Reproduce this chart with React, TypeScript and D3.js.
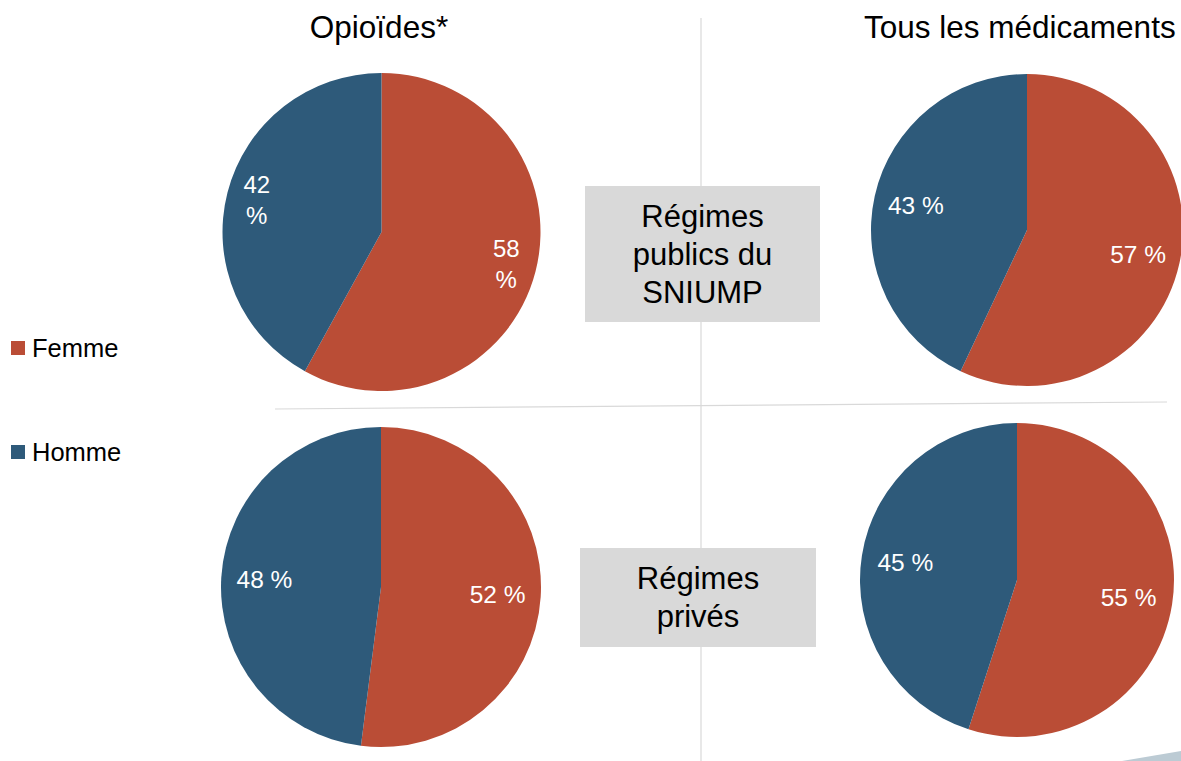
import { arc, pie, PieArcDatum } from "d3";

// sex split of claimants, 4 pies: rows = plan type, columns = drug group

const GROUPS = ["Femme", "Homme"];
const COLORS = ["#ba4d36", "#2e5a7a"];
const COLUMN_TITLES = ["Opioïdes*", "Tous les médicaments"];
const ROW_LABELS = [
  ["Régimes", "publics du", "SNIUMP"],
  ["Régimes", "privés"],
];
// order: top-left, top-right, bottom-left, bottom-right
const FEMME = [58, 57, 52, 55];
const HOMME = [42, 43, 48, 45];

const W = 1181;
const H = 761;
const FONT = "'Liberation Sans', Arial, sans-serif";

// pie layout (cx, cy, r, label radius ratio, wrap % onto new line)
const PIES = [
  { cx: 381.5, cy: 232, r: 159, lr: 0.81, wrap: true },
  { cx: 1027, cy: 230, r: 156, lr: 0.73, wrap: false },
  { cx: 381, cy: 587, r: 160, lr: 0.73, wrap: false },
  { cx: 1017, cy: 580, r: 157, lr: 0.72, wrap: false },
];
const BOXES = [
  { x: 585, y: 186, w: 235, h: 136 },
  { x: 580, y: 548, w: 236, h: 99 },
];

const pieGen = pie<number>().sort(null).value((d) => d);

const PieChart = ({ idx }: { idx: number }) => {
  const p = PIES[idx];
  const values = [FEMME[idx], HOMME[idx]];
  const arcs = pieGen(values);
  const slice = arc<PieArcDatum<number>>().innerRadius(0).outerRadius(p.r);
  const labelArc = arc<PieArcDatum<number>>()
    .innerRadius(p.r * p.lr)
    .outerRadius(p.r * p.lr);

  return (
    <g transform={`translate(${p.cx},${p.cy})`}>
      {arcs.map((a, i) => (
        <path key={i} d={slice(a) ?? ""} fill={COLORS[i]} />
      ))}
      {arcs.map((a, i) => {
        const [x, y] = labelArc.centroid(a);
        return p.wrap ? (
          <text key={"l" + i} x={x} y={y} textAnchor="middle" fill="#fff" fontSize={24}>
            <tspan x={x} dy="-0.3em">{a.data}</tspan>
            <tspan x={x} dy="1.3em">%</tspan>
          </text>
        ) : (
          <text key={"l" + i} x={x} y={y} dy="0.35em" textAnchor="middle" fill="#fff" fontSize={24.5}>
            {a.data} %
          </text>
        );
      })}
    </g>
  );
};

export default function App() {
  return (
    <svg
      width={W}
      height={H}
      style={{ position: "absolute", left: 0, top: 0, background: "#fff" }}
      fontFamily={FONT}
    >
      {/* dividers */}
      <line x1={701} y1={18} x2={701} y2={H} stroke="#d9d9d9" strokeWidth={1.2} />
      <line x1={275} y1={409} x2={1167} y2={402} stroke="#d9d9d9" strokeWidth={1.2} />

      {PIES.map((_, i) => (
        <PieChart key={i} idx={i} />
      ))}

      {/* column titles */}
      <text x={379} y={38} textAnchor="middle" fontSize={31.5} fill="#000">
        {COLUMN_TITLES[0]}
      </text>
      <text x={864} y={38} fontSize={31.5} fill="#000">
        {COLUMN_TITLES[1]}
      </text>

      {/* row boxes */}
      {BOXES.map((b, i) => {
        const lines = ROW_LABELS[i];
        const cx = b.x + b.w / 2;
        const y0 = b.y + b.h / 2 - ((lines.length - 1) * 38) / 2;
        return (
          <g key={i}>
            <rect x={b.x} y={b.y} width={b.w} height={b.h} fill="#d9d9d9" />
            {lines.map((t, j) => (
              <text key={j} x={cx} y={y0 + j * 38} dy="0.35em" textAnchor="middle" fontSize={31} fill="#000">
                {t}
              </text>
            ))}
          </g>
        );
      })}

      {/* legend */}
      {GROUPS.map((g, i) => (
        <g key={g} transform={`translate(11,${341 + i * 104})`}>
          <rect width={14} height={14} fill={COLORS[i]} />
          <text x={21} y={7} dy="0.36em" fontSize={25.5} fill="#000">
            {g}
          </text>
        </g>
      ))}

      {/* corner decoration */}
      <polygon points={`1122,${H} ${W},751 ${W},${H}`} fill="#bccbd4" />
    </svg>
  );
}
